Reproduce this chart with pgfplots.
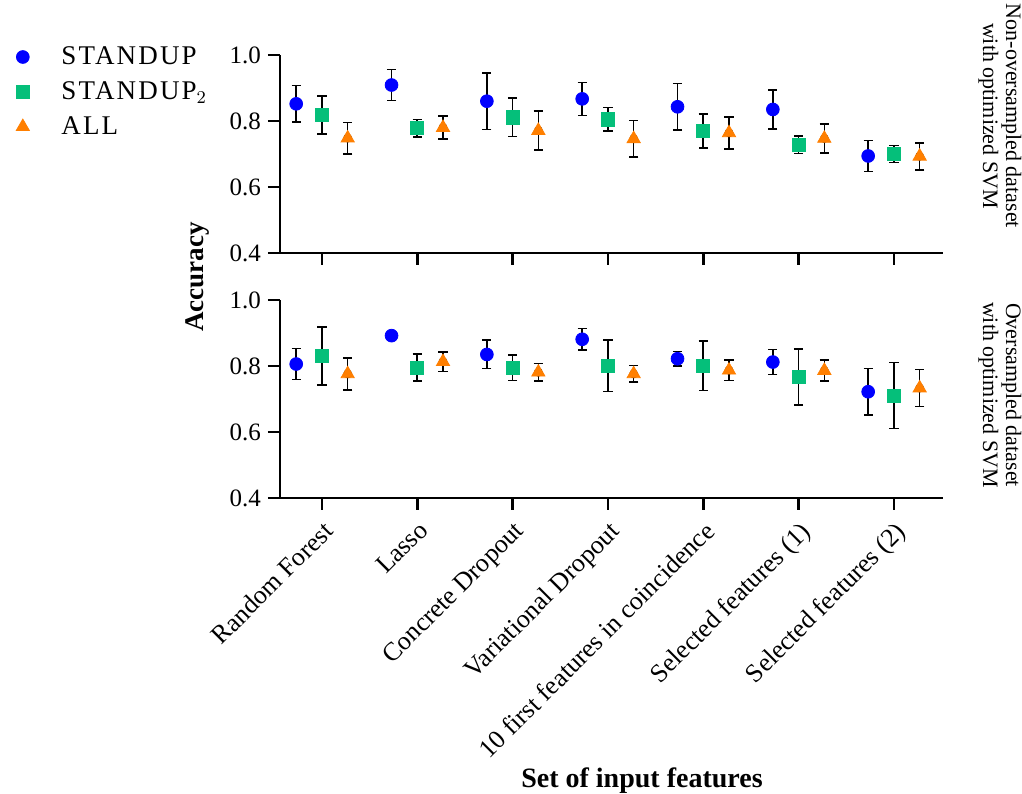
\documentclass[border=0pt]{standalone}
\usepackage{fontspec}
\setmainfont{Liberation Serif}
\usepackage{pgfplots}
\usepackage{pgfplotstable}
\pgfplotsset{compat=1.18}

\definecolor{cblue}{HTML}{0000FF}
\definecolor{cgreen}{HTML}{05BF7A}
\definecolor{corange}{HTML}{FF7F00}

% non-oversampled dataset
\pgfplotstableread{
x     y     e
-0.27 0.852 0.055
0.73  0.909 0.047
1.73  0.860 0.086
2.73  0.867 0.050
3.73  0.843 0.071
4.73  0.835 0.059
5.73  0.694 0.047
}\topA
\pgfplotstableread{
x     y     e
0     0.818 0.058
1     0.778 0.026
2     0.811 0.058
3     0.805 0.036
4     0.770 0.051
5     0.728 0.027
6     0.700 0.026
}\topB
\pgfplotstableread{
x     y     e
0.27  0.748 0.048
1.27  0.780 0.035
2.27  0.771 0.059
3.27  0.746 0.055
4.27  0.764 0.048
5.27  0.747 0.044
6.27  0.693 0.041
}\topC
% oversampled dataset
\pgfplotstableread{
x     y     e
-0.27 0.806 0.047
0.73  0.892 0.008
1.73  0.835 0.043
2.73  0.881 0.033
3.73  0.822 0.022
4.73  0.812 0.038
5.73  0.722 0.070
}\botA
\pgfplotstableread{
x     y     e
0     0.831 0.088
1     0.795 0.041
2     0.795 0.039
3     0.801 0.078
4     0.801 0.075
5     0.767 0.085
6     0.710 0.100
}\botB
\pgfplotstableread{
x     y     e
0.27  0.776 0.048
1.27  0.813 0.030
2.27  0.781 0.027
3.27  0.776 0.025
4.27  0.787 0.031
5.27  0.786 0.032
6.27  0.733 0.056
}\botC

\pgfplotsset{
  panel/.style={
    scale only axis, width=331.5pt, height=99pt,
    xmin=-0.44, xmax=6.515, ymin=0.4, ymax=1.0,
    axis x line*=bottom, axis y line*=left,
    axis line style={-, line width=1.4pt},
    tick align=outside, major tick length=6pt,
    tick style={black, line width=1.4pt},
    xtick={0,...,6}, ytick={0.4,0.6,0.8,1.0},
    yticklabel style={/pgf/number format/.cd, fixed, fixed zerofill, precision=1, assume math mode=true},
    tick label style={font=\fontsize{12.5}{15}\selectfont},
  },
  ebar/.style={only marks, mark=none, forget plot,
    error bars/.cd, y dir=both, y explicit,
    error bar style={black, line width=0.8pt},
    error mark options={rotate=90, black, mark size=2.3pt, line width=0.8pt}},
  sA/.style={only marks, mark=*, mark size=3.2pt, color=cblue},
  sB/.style={only marks, mark=square*, mark size=3.3pt, color=cgreen},
  sC/.style={only marks, mark=triangle*, mark size=3.8pt, color=corange},
}

\begin{document}
\begin{tikzpicture}
\begin{axis}[panel, name=top, xticklabels={},
  legend style={draw=none, fill=none, at={(-0.4075,1.085)}, anchor=north west,
    font=\fontsize{13.5}{16}\selectfont\addfontfeature{LetterSpace=8}, row sep=3pt,
    /tikz/every odd column/.append style={column sep=14pt}},
  legend cell align=left]
\addplot[ebar] table[x=x, y=y, y error=e] {\topA};
\addplot[ebar] table[x=x, y=y, y error=e] {\topB};
\addplot[ebar] table[x=x, y=y, y error=e] {\topC};
\addplot[sA] table[x=x, y=y] {\topA};
\addlegendentry{STANDUP}
\addplot[sB] table[x=x, y=y] {\topB};
\addlegendentry{STANDUP$_2$}
\addplot[sC] table[x=x, y=y] {\topC};
\addlegendentry{ALL}
\end{axis}

\begin{axis}[panel, name=bot, at={(0,-122.5pt)},
  xticklabels={Random Forest, Lasso, Concrete Dropout, Variational Dropout,
    10 first features in coincidence, Selected features (1), Selected features (2)},
  xticklabel style={rotate=45, anchor=north east, font=\fontsize{13}{15}\selectfont}]
\addplot[ebar] table[x=x, y=y, y error=e] {\botA};
\addplot[ebar] table[x=x, y=y, y error=e] {\botB};
\addplot[ebar] table[x=x, y=y, y error=e] {\botC};
\addplot[sA] table[x=x, y=y] {\botA};
\addplot[sB] table[x=x, y=y] {\botB};
\addplot[sC] table[x=x, y=y] {\botC};
\end{axis}

\node[rotate=90, font=\bfseries\fontsize{13.5}{16}\selectfont]
  at ([xshift=-41pt, yshift=-12pt]top.south west) {Accuracy};
\node[font=\bfseries\fontsize{14}{16}\selectfont]
  at ([xshift=181pt, yshift=-141.5pt]bot.south west) {Set of input features};
\node[rotate=-90, align=center, font=\fontsize{11}{11.5}\selectfont]
  at ([xshift=28.5pt, yshift=-30.5pt]top.north east) {Non-oversampled dataset\\with optimized SVM};
\node[rotate=-90, align=center, font=\fontsize{11}{11.5}\selectfont]
  at ([xshift=28.5pt, yshift=-47.5pt]bot.north east) {Oversampled dataset\\with optimized SVM};

\pgfresetboundingbox
\path[use as bounding box] ([xshift=-140pt, yshift=27.5pt]top.north west)
  rectangle ([xshift=39.5pt, yshift=-148pt]bot.south east);
\end{tikzpicture}
\end{document}
